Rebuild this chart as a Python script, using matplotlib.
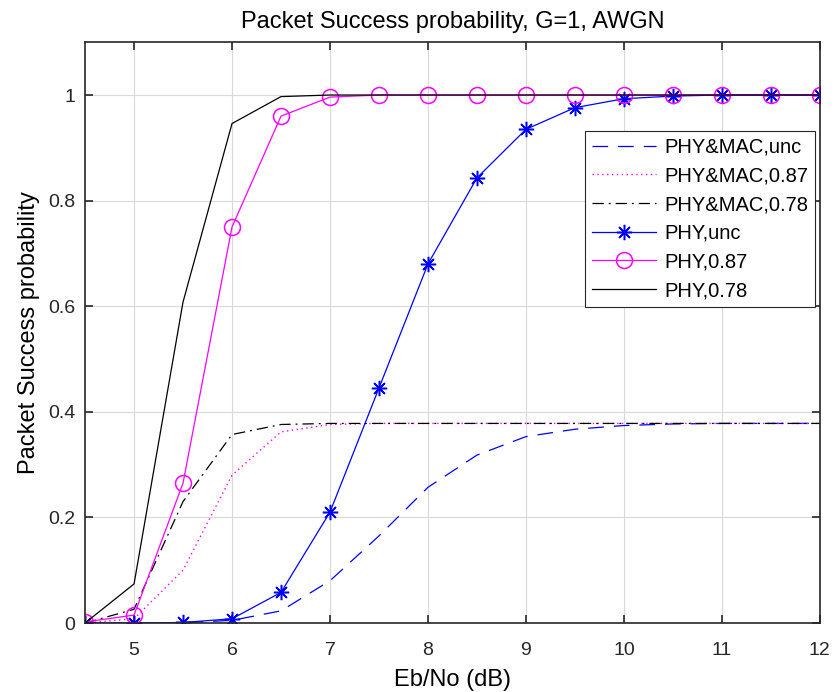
"""Packet success probability vs Eb/No, recreated in matplotlib."""

import matplotlib
matplotlib.use("Agg")
import matplotlib.pyplot as plt

matplotlib.rcParams["font.family"] = ["Liberation Sans", "DejaVu Sans"]

ebno = [4.5, 5, 5.5, 6, 6.5, 7, 7.5, 8, 8.5, 9, 9.5, 10, 10.5, 11, 11.5, 12]

phymac_unc = [0, 0, 0.0005, 0.005, 0.023, 0.08, 0.165, 0.257, 0.318, 0.353,
              0.367, 0.374, 0.377, 0.378, 0.378, 0.378]
phymac_087 = [0, 0.008, 0.10, 0.28, 0.362, 0.376, 0.378, 0.378, 0.378, 0.378,
              0.378, 0.378, 0.378, 0.378, 0.378, 0.378]
phymac_078 = [0, 0.026, 0.23, 0.357, 0.376, 0.378, 0.378, 0.378, 0.378, 0.378,
              0.378, 0.378, 0.378, 0.378, 0.378, 0.378]
phy_unc = [0, 0, 0.001, 0.008, 0.058, 0.21, 0.445, 0.68, 0.843, 0.935,
           0.976, 0.993, 0.998, 1.0, 1.0, 1.0]
phy_087 = [0.002, 0.015, 0.265, 0.75, 0.96, 0.996, 1.0, 1.0, 1.0, 1.0,
           1.0, 1.0, 1.0, 1.0, 1.0, 1.0]
phy_078 = [0, 0.074, 0.608, 0.946, 0.997, 1.0, 1.0, 1.0, 1.0, 1.0,
           1.0, 1.0, 1.0, 1.0, 1.0, 1.0]

BLUE = "#0000FF"
MAGENTA = "#FF00FF"
AXCOL = "#262626"

fig = plt.figure(figsize=(8.34, 6.92), dpi=100)
ax = fig.add_axes([0.102, 0.0997, 0.881, 0.8393])

ax.plot(ebno, phymac_unc, color=BLUE, lw=0.9, dashes=(12.5, 8), label="PHY&MAC,unc")
ax.plot(ebno, phymac_087, color=MAGENTA, lw=1.0, linestyle=(0, (1, 2.5)),
        label="PHY&MAC,0.87")
ax.plot(ebno, phymac_078, color="black", lw=0.9, dashes=(9, 4, 1.5, 4),
        label="PHY&MAC,0.78")
# MATLAB-style asterisk: eight spokes
ax.plot(ebno, phy_unc, color=BLUE, lw=0.9, marker=(8, 2, 0), ms=11, mew=1.1,
        label="PHY,unc")
ax.plot(ebno, phy_087, color=MAGENTA, lw=0.9, marker="o", ms=11.5, mfc="none",
        mew=1.1, label="PHY,0.87")
ax.plot(ebno, phy_078, color="black", lw=0.9, label="PHY,0.78")

ax.set_xlim(4.5, 12)
ax.set_ylim(0, 1.1)
ax.set_xticks([5, 6, 7, 8, 9, 10, 11, 12])
ax.set_xticklabels(["5", "6", "7", "8", "9", "10", "11", "12"])
ax.set_yticks([0, 0.2, 0.4, 0.6, 0.8, 1.0])
ax.set_yticklabels(["0", "0.2", "0.4", "0.6", "0.8", "1"])
ax.grid(True, color="#d9d9d9", lw=0.8)
ax.set_axisbelow(True)
ax.tick_params(direction="in", top=True, right=True, length=6, width=1.2,
               labelsize=14, colors=AXCOL)
ax.tick_params(axis="x", pad=14)
ax.tick_params(axis="y", pad=7)
for s in ax.spines.values():
    s.set_color(AXCOL)
    s.set_linewidth(1.2)

ax.set_title("Packet Success probability, G=1, AWGN", fontsize=17, pad=10.5)
ax.set_xlabel("Eb/No (dB)", fontsize=17, labelpad=7)
ax.set_ylabel("Packet Success probability", fontsize=17, labelpad=6)

leg = ax.legend(loc="upper right", bbox_to_anchor=(0.9775, 0.811),
                bbox_transform=fig.transFigure, fontsize=14.5, frameon=True,
                fancybox=False, framealpha=1, edgecolor=AXCOL,
                borderpad=0.35, labelspacing=0.48, handlelength=3.2,
                handletextpad=0.4, borderaxespad=0)
leg.get_frame().set_linewidth(0.8)

fig.savefig("out.png", dpi=100)
